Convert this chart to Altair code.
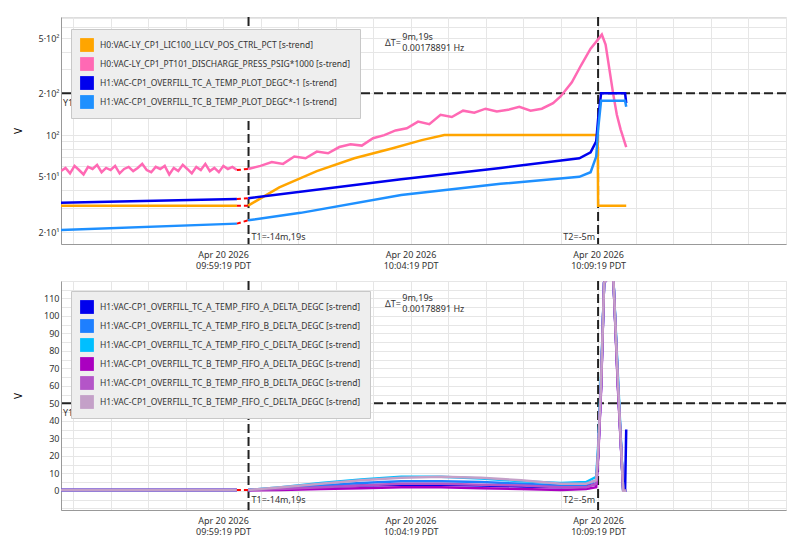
import numpy as np
import pandas as pd
import altair as alt

# x is minutes after Apr 20 2026 09:59:19 PDT
X_MIN, X_MAX = -4.32, 15.01
T1, T2 = 0.68, 10.0
GAP0 = 0.37

top_names = [
    "H0:VAC-LY_CP1_LIC100_LLCV_POS_CTRL_PCT [s-trend]",
    "H0:VAC-LY_CP1_PT101_DISCHARGE_PRESS_PSIG*1000 [s-trend]",
    "H1:VAC-CP1_OVERFILL_TC_A_TEMP_PLOT_DEGC*-1 [s-trend]",
    "H1:VAC-CP1_OVERFILL_TC_B_TEMP_PLOT_DEGC*-1 [s-trend]",
]
top_colors = ["#ffa500", "#ff69b4", "#0000ee", "#1e90ff"]

# orange
orange_pre_x = [-4.32, 0.37]
orange_pre_y = [31, 31]
orange_x = [0.67, 1.5, 2.5, 3.5, 4.5, 5.3, 5.9, 9.99, 10.0, 10.75]
orange_y = [31, 42, 55, 68, 80, 92, 100, 100, 31, 31]

# pink (noisy)
pink_pre_x = list(np.linspace(-4.32, 0.37, 40))
pink_pre_y = [55, 58, 53, 60, 56, 52, 59, 57, 61, 54, 58, 56, 60, 53, 57, 59, 55, 58, 62, 56,
              54, 59, 57, 60, 52, 58, 55, 61, 57, 53, 59, 56, 62, 55, 58, 54, 60, 57, 59, 56]
pink_x = [0.67, 1.0, 1.3, 1.6, 1.9, 2.2, 2.5, 2.8, 3.1, 3.4, 3.7, 4.0, 4.3, 4.6, 4.9, 5.2, 5.5, 5.8,
          6.1, 6.4, 6.7, 7.0, 7.3, 7.6, 7.9, 8.2, 8.5, 8.8, 9.0, 9.3, 9.55, 9.8, 10.0, 10.1, 10.2,
          10.3, 10.4, 10.5, 10.6, 10.75]
pink_y = [57, 60, 64, 62, 70, 68, 76, 74, 82, 86, 84, 95, 100, 108, 112, 125, 120, 140,
          135, 150, 145, 155, 148, 152, 160, 150, 155, 170, 190, 240, 320, 420, 490, 530, 450,
          300, 200, 140, 110, 82]

# dark blue
blue_pre_x = [-4.32, 0.37]
blue_pre_y = [32.5, 34.6]
blue_x = [0.67, 4.75, 7.4, 9.5, 9.8, 9.95, 10.0, 10.08, 10.72, 10.75]
blue_y = [35, 48, 58, 68, 75, 90, 130, 200, 200, 170]

# light blue
lblue_pre_x = [-4.32, 0.37]
lblue_pre_y = [20.7, 23]
lblue_x = [0.67, 2.07, 4.75, 7.4, 9.5, 9.8, 9.95, 10.0, 10.08, 10.72, 10.75]
lblue_y = [24.3, 27.5, 37, 44.5, 50, 54, 70, 110, 177, 177, 160]

bot_names = [
    "H1:VAC-CP1_OVERFILL_TC_A_TEMP_FIFO_A_DELTA_DEGC [s-trend]",
    "H1:VAC-CP1_OVERFILL_TC_A_TEMP_FIFO_B_DELTA_DEGC [s-trend]",
    "H1:VAC-CP1_OVERFILL_TC_A_TEMP_FIFO_C_DELTA_DEGC [s-trend]",
    "H1:VAC-CP1_OVERFILL_TC_B_TEMP_FIFO_A_DELTA_DEGC [s-trend]",
    "H1:VAC-CP1_OVERFILL_TC_B_TEMP_FIFO_B_DELTA_DEGC [s-trend]",
    "H1:VAC-CP1_OVERFILL_TC_B_TEMP_FIFO_C_DELTA_DEGC [s-trend]",
]
bot_colors = ["#0000ee", "#1e7fff", "#00bfff", "#aa00c0", "#b455c8", "#c4a0c8"]

bot_pre_x = [-4.32, -2.0, 0.37]
bot_pre_y = [0.5, 0.5, 0.5]
bot_x = [0.67, 1.55, 2.61, 3.68, 4.75, 5.81, 6.88, 7.95, 9.01, 9.68, 9.95, 10.0, 10.08,
         10.16, 10.4, 10.53, 10.67, 10.72, 10.75]
bot_a_a = [0.5, 1, 2, 3, 3.5, 3.5, 3, 2.5, 2, 2.5, 4, 20, 60, 119, 125, 60, 0, 0, 35]
bot_a_b = [0.5, 1.5, 3, 4.5, 5.5, 5.5, 5, 4, 3, 3.5, 6, 22, 62, 119, 125, 62, 0, 0, 0]
bot_a_c = [0.5, 2, 4.5, 6.5, 8, 8, 7, 5.5, 4.5, 5, 8, 25, 65, 119, 125, 65, 0, 0, 0]
bot_b_a = [0.3, 0.5, 1, 1.5, 2, 2, 1.5, 1, 0.5, 1, 2, 18, 58, 119, 125, 58, 0, 0, 0]
bot_b_b = [0.4, 1, 2, 3, 4, 4, 3.5, 3, 2, 2, 4, 20, 60, 119, 125, 60, 0, 0, 0]
bot_b_c = [0.5, 2, 4, 6, 7.5, 8, 7.5, 6, 4, 4, 6, 22, 62, 119, 125, 62, 0, 0, 0]

FONT = "Noto Sans"
W, H = 725, 227


def rows(name, pre_x, pre_y, x, y):
    out = [dict(name=name, seg="pre", x=a, y=b) for a, b in zip(pre_x, pre_y)]
    out += [dict(name=name, seg="post", x=a, y=b) for a, b in zip(x, y)]
    return out


top_rows = (rows(top_names[0], orange_pre_x, orange_pre_y, orange_x, orange_y)
            + rows(top_names[1], pink_pre_x, pink_pre_y, pink_x, pink_y)
            + rows(top_names[2], blue_pre_x, blue_pre_y, blue_x, blue_y)
            + rows(top_names[3], lblue_pre_x, lblue_pre_y, lblue_x, lblue_y))
top_df = pd.DataFrame(top_rows)
top_gap = pd.DataFrame({
    "x": [GAP0] * 4, "x2": [0.67] * 4,
    "y": [orange_pre_y[-1], pink_pre_y[-1], blue_pre_y[-1], lblue_pre_y[-1]],
    "y2": [orange_y[0], pink_y[0], blue_y[0], lblue_y[0]],
})

bot_series = [bot_a_a, bot_a_b, bot_a_c, bot_b_a, bot_b_b, bot_b_c]
bot_rows = []
for n, s in zip(bot_names, bot_series):
    bot_rows += rows(n, bot_pre_x, bot_pre_y, bot_x, s)
bot_df = pd.DataFrame(bot_rows)
bot_gap = pd.DataFrame({"x": [GAP0], "x2": [0.67], "y": [0.5], "y2": [0.5]})

x_ticks = list(range(-4, 16))
label_expr = ("datum.value == 0 ? ['Apr 20 2026', '09:59:19 PDT'] : "
              "datum.value == 5 ? ['Apr 20 2026', '10:04:19 PDT'] : "
              "datum.value == 10 ? ['Apr 20 2026', '10:09:19 PDT'] : ''")


def x_enc():
    return alt.X("x:Q", scale=alt.Scale(domain=[X_MIN, X_MAX], nice=False, zero=False),
                 axis=alt.Axis(values=x_ticks, labelExpr=label_expr, title=None, tickSize=0,
                               labelFontSize=9, labelColor="#333", gridColor="#e6e6e6",
                               domainColor="#999", labelPadding=6, labelOverlap=False,
                               tickCount=40))


def panel(df, gap, names, colors, yscale, yaxis, hline, ytext, dty, t_y, legend_y):
    base = alt.Chart(df)
    legend = alt.Legend(title=None, orient="none", legendX=10, legendY=legend_y,
                        fillColor="#eeeeee", strokeColor="#c8c8c8",
                        padding=9, symbolType="square", symbolSize=190,
                        symbolStrokeWidth=0, symbolOpacity=1,
                        labelFontSize=8.5, labelFont=FONT, labelColor="#333",
                        rowPadding=5, labelLimit=400, labelOffset=6)
    cscale = alt.Scale(domain=names, range=colors)
    # filled squares only feed the legend (no data rows are drawn)
    keys = base.transform_filter("datum.x < -1000").mark_square(filled=True, opacity=1).encode(
        x=x_enc(), y=alt.Y("y:Q", scale=yscale, axis=yaxis),
        color=alt.Color("name:N", scale=cscale, legend=legend))
    lines = base.mark_line(strokeWidth=2.5, clip=True).encode(
        x=x_enc(),
        y=alt.Y("y:Q", scale=yscale, axis=yaxis),
        color=alt.Color("name:N", scale=cscale, legend=legend),
        detail="seg:N",
        order="x:Q",
    )
    gaps = alt.Chart(gap).mark_rule(color="red", strokeDash=[4, 3], strokeWidth=2).encode(
        x="x:Q", x2="x2:Q", y="y:Q", y2="y2:Q")
    vl = alt.Chart(pd.DataFrame({"x": [T1, T2]})).mark_rule(
        color="#222", strokeDash=[9, 4], strokeWidth=2).encode(x="x:Q")
    hl = alt.Chart(pd.DataFrame({"y": [hline]})).mark_rule(
        color="#222", strokeDash=[9, 4], strokeWidth=2).encode(y="y:Q")
    y1t = alt.Chart(pd.DataFrame({"x": [X_MIN + 0.05], "y": [ytext], "t": [f"Y1={hline}"]})).mark_text(
        align="left", baseline="middle", font=FONT, fontSize=9, color="#333", dy=10).encode(
        x="x:Q", y="y:Q", text="t:N")
    t1 = alt.Chart(pd.DataFrame({"x": [T1], "y": [t_y], "t": ["T1=-14m,19s"]})).mark_text(
        align="left", baseline="middle", font=FONT, fontSize=9, color="#333", dx=3).encode(
        x="x:Q", y="y:Q", text="t:N")
    t2 = alt.Chart(pd.DataFrame({"x": [T2], "y": [t_y], "t": ["T2=-5m"]})).mark_text(
        align="right", baseline="middle", font=FONT, fontSize=9, color="#333", dx=-3).encode(
        x="x:Q", y="y:Q", text="t:N")
    dt1 = alt.Chart(pd.DataFrame({"x": [4.32], "y": [dty], "t": ["ΔT="]})).mark_text(
        align="left", baseline="middle", font=FONT, fontSize=9, color="#333", dy=6).encode(
        x="x:Q", y="y:Q", text="t:N")
    dt2 = alt.Chart(pd.DataFrame({"x": [4.78], "y": [dty], "t": ["9m,19s\n0.00178891 Hz"]})).mark_text(
        align="left", baseline="middle", font=FONT, fontSize=9, color="#333", lineBreak="\n").encode(
        x="x:Q", y="y:Q", text="t:N")
    return alt.layer(keys, hl, vl, y1t, lines, gaps, t1, t2, dt1, dt2).properties(width=W, height=H)


top_axis = alt.Axis(values=[20, 30, 40, 50, 60, 70, 80, 90, 100, 200, 300, 400, 500, 600, 700],
                    labelExpr="datum.value == 20 ? '2·10¹' : datum.value == 50 ? '5·10¹' : "
                              "datum.value == 100 ? '10²' : datum.value == 200 ? '2·10²' : "
                              "datum.value == 500 ? '5·10²' : ''",
                    title="V", titleFontWeight="normal", titleFont=FONT, titleFontSize=10,
                    titlePadding=14, tickSize=0, labelFontSize=9, labelColor="#333",
                    gridColor="#e6e6e6", domainColor="#999", labelOverlap=False, tickCount=40)
top = panel(top_df, top_gap, top_names, top_colors,
            alt.Scale(type="log", domain=[16.4, 710], nice=False), top_axis,
            200, 200, 510, 18.5, 12)

bot_axis = alt.Axis(values=list(range(-10, 121, 5)),
                    labelExpr="datum.value >= 0 && datum.value <= 110 && datum.value % 10 == 0 ? datum.label : ''",
                    title="V", titleFontWeight="normal", titleFont=FONT, titleFontSize=10,
                    titlePadding=20, tickSize=0, labelFontSize=9, labelColor="#333",
                    gridColor="#e6e6e6", domainColor="#999", labelOverlap=False,
                    tickCount=40)
bot = panel(bot_df, bot_gap, bot_names, bot_colors,
            alt.Scale(domain=[-11, 120], nice=False), bot_axis,
            50, 50, 110, -5, 10).properties(height=229)

chart = alt.vconcat(top, bot, spacing=5).resolve_scale(color="independent").resolve_legend(
    color="independent").configure_view(stroke=None).configure_axis(
    labelFont=FONT, labelOverlap=False).configure(font=FONT, background="white")
chart.save("out.html", embed_options={"renderer": "svg", "actions": False})
